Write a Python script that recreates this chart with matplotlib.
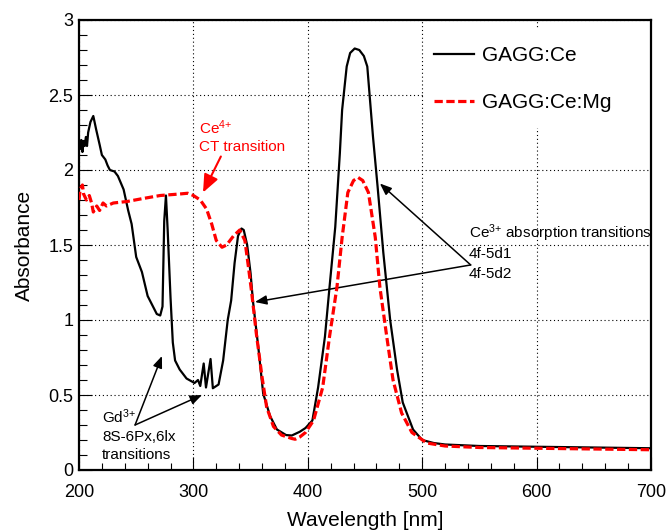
import matplotlib
matplotlib.use("Agg")
import matplotlib.pyplot as plt
from matplotlib.patches import Rectangle
from matplotlib.ticker import MultipleLocator, FormatStrFormatter

plt.rcParams['font.family'] = ['Liberation Sans', 'DejaVu Sans']
plt.rcParams['mathtext.default'] = 'regular'

# GAGG:Ce absorbance spectrum
wl_ce = [200, 201, 202, 203, 204, 205, 206, 207, 208, 210, 212.5, 215, 218, 220, 223,
         225, 227, 231, 234, 239, 243, 246, 250, 255, 260, 268, 271, 273, 274.5, 276,
         277.5, 280, 282, 284, 288, 294, 301, 304, 306, 309, 311, 315, 317, 322, 326,
         330, 333, 336, 339, 342, 344, 347, 350, 352, 357, 361, 367, 373, 381, 386,
         393, 398, 404, 409, 415, 419, 424, 428, 430, 434, 437, 441, 445, 449, 452,
         457, 461, 466, 472, 478, 483, 492, 500, 510, 520, 550, 600, 650, 700]
abs_ce = [2.20, 2.14, 2.20, 2.12, 2.19, 2.16, 2.22, 2.16, 2.25, 2.32, 2.36, 2.27, 2.17, 2.10, 2.07,
          2.03, 2.00, 1.99, 1.96, 1.87, 1.73, 1.64, 1.42, 1.32, 1.16, 1.04, 1.03, 1.09, 1.66, 1.83,
          1.60, 1.15, 0.85, 0.73, 0.67, 0.61, 0.58, 0.60, 0.56, 0.71, 0.55, 0.74, 0.545, 0.57, 0.73,
          1.00, 1.13, 1.38, 1.56, 1.61, 1.60, 1.50, 1.31, 1.13, 0.80, 0.51, 0.36, 0.27, 0.233, 0.23,
          0.255, 0.28, 0.33, 0.55, 0.89, 1.22, 1.62, 2.11, 2.40, 2.69, 2.78, 2.81, 2.80, 2.76, 2.69,
          2.22, 1.89, 1.45, 1.00, 0.67, 0.45, 0.27, 0.20, 0.18, 0.17, 0.16, 0.155, 0.15, 0.145]

# GAGG:Ce:Mg absorbance spectrum
wl_mg = [200, 201, 203, 204, 206.5, 209, 211, 212.5, 215.5, 218, 221, 224, 230, 242, 256,
         271, 288, 295, 300, 306, 311.5, 316, 320, 325, 329, 335, 340.5, 345, 348, 351,
         355, 360, 364, 370, 377, 386, 389, 393, 398, 405, 413, 419, 425.5, 430, 435,
         440, 444, 448, 453, 459, 463, 469, 474.5, 482, 491, 504, 520, 550, 600, 650, 700]
abs_mg = [1.80, 1.87, 1.90, 1.84, 1.80, 1.83, 1.78, 1.72, 1.76, 1.73, 1.78, 1.76, 1.78, 1.79, 1.81,
          1.83, 1.84, 1.845, 1.83, 1.80, 1.74, 1.64, 1.53, 1.485, 1.50, 1.56, 1.60, 1.53, 1.36, 1.18,
          0.91, 0.62, 0.42, 0.29, 0.233, 0.21, 0.205, 0.22, 0.25, 0.33, 0.55, 0.89, 1.22, 1.55, 1.85,
          1.93, 1.95, 1.93, 1.85, 1.55, 1.22, 0.89, 0.60, 0.38, 0.25, 0.18, 0.16, 0.15, 0.145, 0.14, 0.135]

fig = plt.figure(figsize=(6.66, 5.30), dpi=100)
ax = fig.add_axes([79 / 666, 60 / 530, 572 / 666, 450 / 530])

ax.plot(wl_ce, abs_ce, color='black', lw=1.6, label='GAGG:Ce', zorder=3)
ax.plot(wl_mg, abs_mg, color='#ff0000', lw=2.3, linestyle=(0, (2.6, 1.1)),
        label='GAGG:Ce:Mg', zorder=4)

ax.set_xlim(200, 700)
ax.set_ylim(0, 3)
ax.xaxis.set_major_locator(MultipleLocator(100))
ax.xaxis.set_minor_locator(MultipleLocator(20))
ax.yaxis.set_major_locator(MultipleLocator(0.5))
ax.yaxis.set_minor_locator(MultipleLocator(0.1))
ax.yaxis.set_major_formatter(FormatStrFormatter('%g'))

ax.tick_params(which='both', direction='in', top=False, right=False, width=0.8)
ax.tick_params(axis='x', which='major', length=9.5, pad=10, labelsize=13)
ax.tick_params(axis='x', which='minor', length=5)
ax.tick_params(axis='y', which='major', length=9, pad=4, labelsize=13)
ax.tick_params(axis='y', which='minor', length=5.5)

for s in ax.spines.values():
    s.set_linewidth(1.6)

ax.grid(True, which='major', color='black', lw=0.8, linestyle=(0, (1, 2.5)))

ax.set_xlabel('Wavelength [nm]', fontsize=15)
ax.set_ylabel('Absorbance', fontsize=15)
ax.xaxis.set_label_coords(0.5, -0.092)
ax.yaxis.set_label_coords(-0.078, 0.5)

# white box behind the legend hides the grid
ax.add_patch(Rectangle((0.603, 0.76), 0.397, 0.222, transform=ax.transAxes,
                       facecolor='white', edgecolor='none', zorder=1.8))
ax.legend(loc='upper left', bbox_to_anchor=(0.6206, 0.942), frameon=False,
          fontsize=15, handlelength=1.9, handletextpad=0.4, labelspacing=1.35,
          borderpad=0, borderaxespad=0)

# Ce4+ charge transfer band
ax.text(304.9, 2.28, 'Ce$^{4{+}}$', color='#ff0000', fontsize=11, ha='left', va='center')
ax.text(304.9, 2.153, 'CT transition', color='#ff0000', fontsize=11, ha='left', va='center')
ax.annotate('', xy=(308.4, 1.85), xytext=(324, 2.09),
            arrowprops=dict(arrowstyle='-|>,head_length=0.6,head_width=0.25',
                            color='#ff0000', lw=1.5, mutation_scale=18,
                            shrinkA=0, shrinkB=0))

# Ce3+ 4f-5d bands
ax.text(541, 1.58, 'Ce$^{3{+}}$ absorption transitions', fontsize=11, ha='left', va='center')
ax.text(541, 1.44, '4f-5d1', fontsize=11, ha='left', va='center')
ax.text(541, 1.31, '4f-5d2', fontsize=11, ha='left', va='center')
for tip in [(463, 1.91), (353.8, 1.12)]:
    ax.annotate('', xy=tip, xytext=(542.4, 1.367),
                arrowprops=dict(arrowstyle='-|>,head_length=0.5,head_width=0.2',
                                color='black', lw=1.1, mutation_scale=14,
                                shrinkA=0, shrinkB=0))

# Gd3+ lines
ax.text(220, 0.353, 'Gd$^{3{+}}$', fontsize=11, ha='left', va='center')
ax.text(220, 0.22, '8S-6Px,6lx', fontsize=11, ha='left', va='center')
ax.text(220, 0.10, 'transitions', fontsize=11, ha='left', va='center')
for tip in [(272.5, 0.76), (307.5, 0.50)]:
    ax.annotate('', xy=tip, xytext=(249, 0.30),
                arrowprops=dict(arrowstyle='-|>,head_length=0.5,head_width=0.2',
                                color='black', lw=1.1, mutation_scale=14,
                                shrinkA=0, shrinkB=0))

fig.savefig('out.png', dpi=100)
